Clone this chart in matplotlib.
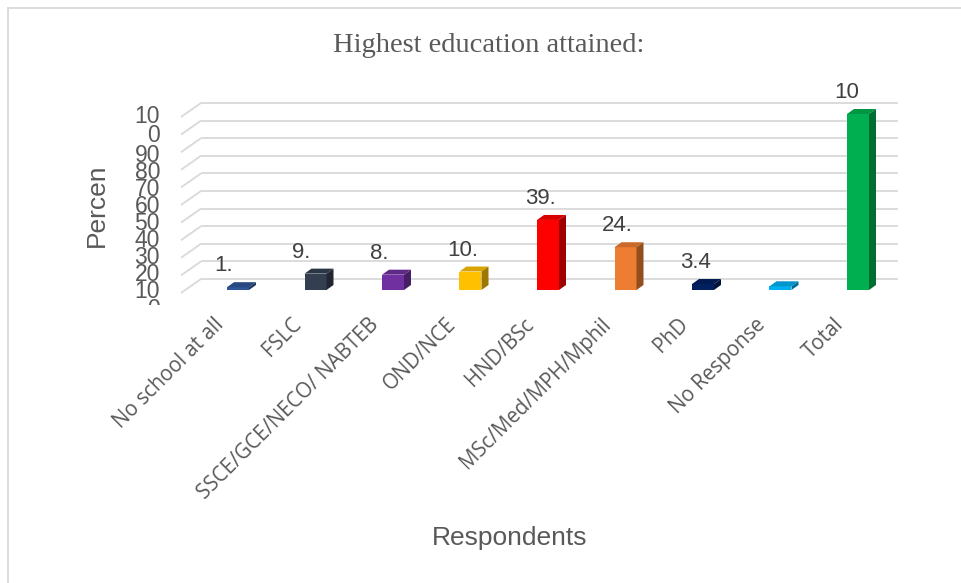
import matplotlib
matplotlib.use("Agg")
import matplotlib.pyplot as plt
from matplotlib.lines import Line2D
import numpy as np

# Highest education attained by respondents (percent)
categories = ["No school at all", "FSLC", "SSCE/GCE/NECO/ NABTEB", "OND/NCE",
              "HND/BSc", "MSc/Med/MPH/Mphil", "PhD", "No Response", "Total"]
values = [1.6, 9.3, 8.7, 10.5, 39.8, 24.3, 3.4, 2.1, 100]
value_labels = ["1.", "9.", "8.", "10.", "39.", "24.", "3.4", "", "10"]
bar_colors = ["#2F5597", "#333F50", "#7030A0", "#FFC000", "#FF0000",
              "#ED7D31", "#002060", "#00B0F0", "#00B050"]
y_ticks = [0, 10, 20, 30, 40, 50, 60, 70, 80, 90, 100]
y_tick_labels = ["0", "10", "20", "30", "40", "50", "60", "70", "80", "90", "10\n0"]

W, H = 961, 583
GRAY = "#595959"
GRID = "#D9D9D9"

# pixel layout of the plot: bar front centres and value scale
X0_PX, CAT_PX = 238, 77.5
Y0_PX, UNIT_PX = 290, 1.76
BOX = (130, 930, 80, 305)   # left, right, top, bottom (px)


def px_x(p):
    return (p - X0_PX) / CAT_PX


def px_y(p):
    return (Y0_PX - p) / UNIT_PX


def shade(c, f):
    r, g, b = matplotlib.colors.to_rgb(c)
    return (r * f, g * f, b * f)


fig = plt.figure(figsize=(W / 100, H / 100), dpi=100)
left, right, top, bottom = BOX
ax = fig.add_axes([left / W, (H - bottom) / H, (right - left) / W, (bottom - top) / H])
ax.set_xlim(px_x(left), px_x(right))
ax.set_ylim(px_y(bottom), px_y(top))
ax.axis("off")

# back wall and side wall gridlines (3D look)
wall_l, wall_r = px_x(201), px_x(898)
wall_dv = px_y(279)                  # back wall sits above the bar bases
side_dx, side_dv = px_x(181) - wall_l, px_y(293) - px_y(279)
for g in y_ticks:
    gy = g + wall_dv
    ax.plot([wall_l, wall_r], [gy, gy], color=GRID, lw=1.3, zorder=1,
            solid_capstyle="butt")
    ax.plot([wall_l + side_dx, wall_l], [gy + side_dv, gy], color=GRID, lw=1.3,
            zorder=1, solid_capstyle="butt")

# 3D columns: front face + top + right side
x = np.arange(len(categories))
bw = 22 / CAT_PX
dx, dy = 7 / CAT_PX, 5 / UNIT_PX
ax.bar(x, values, width=bw, color=bar_colors, zorder=3, linewidth=0)
for xi, v, c in zip(x, values, bar_colors):
    xl, xr = xi - bw / 2, xi + bw / 2
    ax.fill([xl, xr, xr + dx, xl + dx], [v, v, v + dy, v + dy],
            color=shade(c, 0.85), zorder=3, lw=0)
    ax.fill([xr, xr + dx, xr + dx, xr], [0, dy, v + dy, v],
            color=shade(c, 0.62), zorder=3, lw=0)

# data labels (clipped text as shown in the source chart)
for xi, v, lab in zip(x, values, value_labels):
    ax.text(xi - 0.3, v + 9, lab, ha="left", va="baseline", fontsize=16,
            color="#404040", family="Liberation Sans", zorder=4, clip_on=False)

# y tick labels, squeezed together
for g, lab in zip(y_ticks, y_tick_labels):
    ty = -10.8 + 0.97 * g
    if "\n" in lab:
        ty += 7
    ax.text(px_x(160), ty, lab, ha="right", va="center", fontsize=16.5,
            color=GRAY, family="Liberation Sans", linespacing=0.8,
            clip_on=(g == 0))

# rotated category labels
for xi, lab in zip(x, categories):
    ax.text(xi - 0.325, px_y(314), lab, rotation=45, rotation_mode="anchor",
            ha="right", va="top", fontsize=14.8, color=GRAY, family="Open Sans",
            clip_on=False)

fig.text(97 / W, 1 - 205 / H, "Percen", rotation=90, ha="center", va="center",
         fontsize=19, color=GRAY, family="Liberation Sans")
fig.text(510 / W, 1 - 538 / H, "Respondents", ha="center", va="center",
         fontsize=19, color=GRAY, family="Liberation Sans")
fig.text(489 / W, 1 - 46 / H, "Highest education attained:", ha="center",
         va="center", fontsize=20.5, color=GRAY, family="Liberation Serif")

# chart frame (top and left edges)
fig.add_artist(Line2D([7.5 / W, 7.5 / W], [0, 1 - 8 / H], color=GRID, lw=1.3))
fig.add_artist(Line2D([7.5 / W, 1], [1 - 8 / H, 1 - 8 / H], color=GRID, lw=1.3))

fig.savefig("out.png", dpi=100)
